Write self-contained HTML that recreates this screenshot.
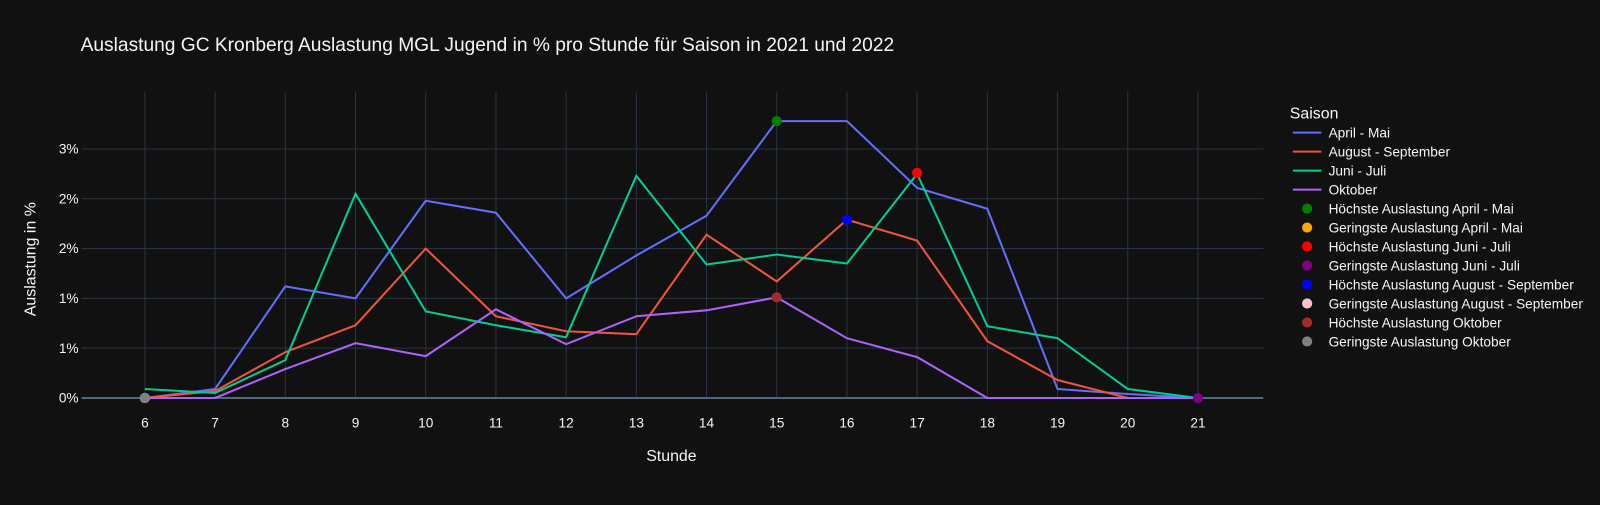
<!DOCTYPE html>
<html><head><meta charset="utf-8"><style>
body{margin:0;background:#111111;font-family:"Liberation Sans",sans-serif;overflow:hidden;}
svg text{fill:#f2f5fa;font-family:"Liberation Sans",sans-serif;}
</style></head><body>
<svg id="c" width="1600" height="500" viewBox="0 0 1568 490">
<rect width="1568" height="490" fill="#111111"/>
<text x="79" y="50" font-size="18.8">Auslastung GC Kronberg Auslastung MGL Jugend in % pro Stunde für Saison in 2021 und 2022</text>
<text x="658" y="452" font-size="15.6" text-anchor="middle">Stunde</text>
<text transform="translate(35,254) rotate(-90)" font-size="15.6" text-anchor="middle">Auslastung in %</text>
<g id="grid"></g><g id="lines"></g><g id="marks"></g><g id="legend"></g>
</svg>
<script>
const hours=[6,7,8,9,10,11,12,13,14,15,16,17,18,19,20,21];
const aprilMai=[0,0.09,1.12,1.0,1.98,1.86,1.0,1.43,1.83,2.78,2.78,2.11,1.9,0.09,0.04,0];
const augSep=[0,0.07,0.46,0.73,1.5,0.82,0.67,0.64,1.64,1.17,1.79,1.58,0.57,0.18,0,0];
const juniJuli=[0.09,0.05,0.38,2.05,0.87,0.73,0.61,2.23,1.34,1.44,1.35,2.25,0.72,0.6,0.09,0];
const oktober=[0,0,0.29,0.55,0.42,0.89,0.54,0.82,0.88,1.01,0.6,0.41,0,0,0,0];
const yTicks=[0,0.5,1,1.5,2,2.5];
const yTickLabels=["0%","1%","1%","2%","2%","3%"];
const seriesNames=["April - Mai","August - September","Juni - Juli","Oktober"];
const markerNames=["Höchste Auslastung April - Mai","Geringste Auslastung April - Mai","Höchste Auslastung Juni - Juli","Geringste Auslastung Juni - Juli","Höchste Auslastung August - September","Geringste Auslastung August - September","Höchste Auslastung Oktober","Geringste Auslastung Oktober"];
const markerHours=[15,6,17,21,16,6,15,6];
const markerValues=[2.78,0,2.26,0,1.79,0,1.01,0];

const NS="http://www.w3.org/2000/svg";
const colors=["#636efa","#EF553B","#00cc96","#ab63fa"];
const mColors=["green","orange","red","purple","blue","pink","brown","grey"];
const X=h=>142+(h-6)*68.8;
const Y=v=>390-v*97.6;
function mk(t,p,a){const e=document.createElementNS(NS,t);for(const k in a)e.setAttribute(k,a[k]);p.appendChild(e);return e;}
const grid=document.getElementById('grid'),lines=document.getElementById('lines'),marks=document.getElementById('marks'),leg=document.getElementById('legend');
hours.forEach(h=>{
 const l=mk('line',grid,{x1:X(h),x2:X(h),y1:90,y2:390,stroke:'#283442','stroke-width':1});
 
 
 const t=mk('text',grid,{x:X(h),y:419,'font-size':13.4,'text-anchor':'middle'});t.textContent=h;
 
 
});
yTicks.forEach((v,i)=>{
 const l=mk('line',grid,{x1:80,x2:1238,y1:Y(v),y2:Y(v),stroke:v===0?'#506784':'#283442','stroke-width':v===0?2:1});
 
 
 const t=mk('text',grid,{x:77,y:Y(v)+4.5,'font-size':13.4,'text-anchor':'end'});t.textContent=yTickLabels[i];
 
 
});
[aprilMai,augSep,juniJuli,oktober].forEach((s,i)=>{
 const p=mk('polyline',lines,{points:s.map((v,j)=>X(hours[j])+','+Y(v)).join(' '),fill:'none',stroke:colors[i],'stroke-width':2});
 
 
});
markerHours.forEach((h,i)=>{
 const c=mk('circle',marks,{cx:X(h),cy:Y(markerValues[i]),r:5,fill:mColors[i]});
 
 
});
const lt=mk('text',leg,{x:1264,y:116,'font-size':15.6});lt.textContent='Saison';


let y=130;
seriesNames.forEach((n,i)=>{
 const l=mk('line',leg,{x1:1267,x2:1295,y1:y,y2:y,stroke:colors[i],'stroke-width':2});
 const t=mk('text',leg,{x:1302,y:y+4.8,'font-size':13.4});t.textContent=n;
 
 
 y+=18.6;
});
markerNames.forEach((n,i)=>{
 mk('circle',leg,{cx:1281,cy:y,r:5,fill:mColors[i]});
 const t=mk('text',leg,{x:1302,y:y+4.8,'font-size':13.4});t.textContent=n;
 
 
 y+=18.6;
});
</script>
</body></html>
